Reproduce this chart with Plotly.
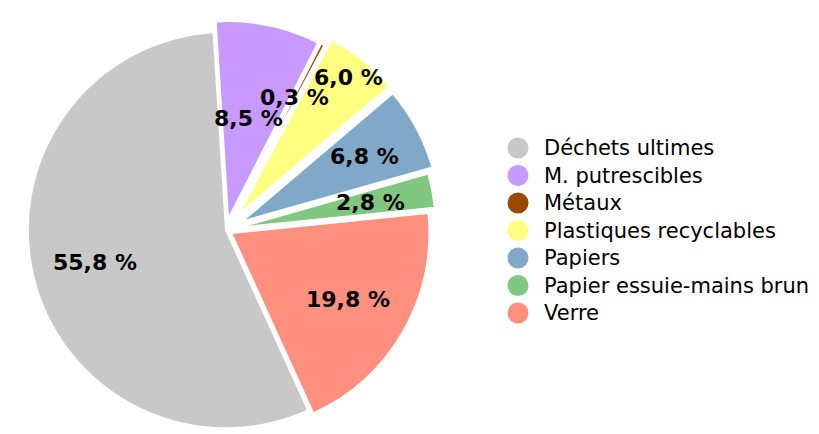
import math
import plotly.graph_objects as go

labels = ["Déchets ultimes", "M. putrescibles", "Métaux", "Plastiques recyclables",
          "Papiers", "Papier essuie-mains brun", "Verre"]
values = [55.8, 8.5, 0.3, 6.0, 6.8, 2.8, 19.8]
value_text = ["55,8 %", "8,5 %", "0,3 %", "6,0 %", "6,8 %", "2,8 %", "19,8 %"]

# styling
colors = ["#c8c8c8", "#c899ff", "#964b00", "#ffff80", "#80a8c8", "#80c880", "#ff9080"]
pulls = [0, 0.055, 0.055, 0.10, 0.09, 0.06, 0.03]
label_dist = [0.68, 0.573, 0.752, 0.985, 0.79, 0.743, 0.709]  # fraction of radius from centre

W, H = 819, 444
dom_x = [0, 436 / W]
dom_y = [0, 1]
rotation = 155.5

fig = go.Figure()
fig.add_trace(go.Pie(
    labels=labels, values=values, sort=False, direction="clockwise",
    rotation=rotation, pull=pulls,
    marker=dict(colors=colors, line=dict(color="white", width=2)),
    textinfo="none", hoverinfo="label+percent", showlegend=False,
    domain=dict(x=dom_x, y=dom_y),
))

# pie geometry as laid out by plotly (centre of domain, radius shrunk by max pull)
cx = (dom_x[0] + dom_x[1]) / 2 * W
cy = (1 - (dom_y[0] + dom_y[1]) / 2) * H
r = min((dom_x[1] - dom_x[0]) * W, (dom_y[1] - dom_y[0]) * H) / 2 / (1 + max(pulls))
total = sum(values)
cum = 0.0
for v, t, g in zip(values, value_text, label_dist):
    mid = math.radians(rotation + 360 * (cum + v / 2) / total)
    cum += v
    d = g * r
    x = cx + d * math.sin(mid)
    y = cy - d * math.cos(mid)
    fig.add_annotation(
        x=x / W, y=1 - y / H, xref="paper", yref="paper",
        xanchor="center", yanchor="middle",
        text=f"<b>{t}</b>", showarrow=False,
        font=dict(size=22, color="black", family="DejaVu Sans"),
    )

# legend (circle markers + labels)
leg_x, leg_y0, leg_step = 510, 140, 27.5
for i, (lab, col) in enumerate(zip(labels, colors)):
    yy = 1 - (leg_y0 + i * leg_step) / H
    fig.add_shape(
        type="circle", xref="paper", yref="paper",
        xsizemode="pixel", ysizemode="pixel",
        xanchor=leg_x / W, yanchor=yy,
        x0=-10.5, x1=10.5, y0=-10.5, y1=10.5,
        fillcolor=col, line=dict(width=0),
    )
    fig.add_annotation(
        x=(leg_x + 24) / W, y=yy, xref="paper", yref="paper",
        xanchor="left", yanchor="middle", text=lab, showarrow=False,
        font=dict(size=21, color="black", family="DejaVu Sans"),
    )

fig.update_layout(
    width=W, height=H, margin=dict(l=0, r=0, t=0, b=0),
    paper_bgcolor="white", plot_bgcolor="white",
    showlegend=False,
    font=dict(family="DejaVu Sans"),
)
fig.write_html("out.html")
